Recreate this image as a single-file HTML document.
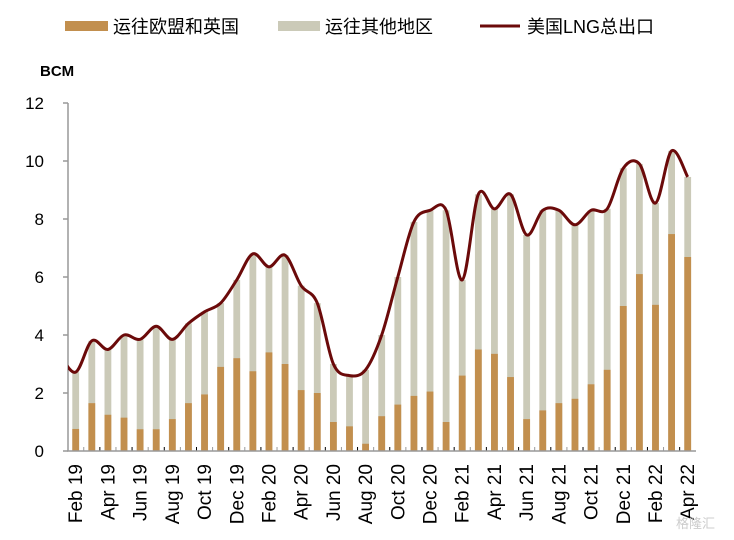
<!DOCTYPE html>
<html><head><meta charset="utf-8">
<style>
body{margin:0;background:#fff;}
svg{display:block;font-family:"Liberation Sans","Noto Sans CJK SC",sans-serif;}
</style></head><body>
<svg id="chart" width="734" height="540" viewBox="0 0 734 540" xmlns="http://www.w3.org/2000/svg">
<g>
  <rect x="65" y="21" width="43" height="10" fill="#c28f4e"/>
  <text x="113" y="33" font-size="18" fill="#000">运往欧盟和英国</text>
  <rect x="278" y="21" width="42" height="10" fill="#cbcab8"/>
  <text x="325" y="33" font-size="18" fill="#000">运往其他地区</text>
  <line x1="480" y1="26" x2="520" y2="26" stroke="#6b0a0a" stroke-width="3"/>
  <text x="527" y="33" font-size="18" fill="#000">美国LNG总出口</text>
</g>
<text x="40" y="76" font-size="15" font-weight="bold" fill="#000">BCM</text>
<g id="plot"></g>
<text x="676" y="528" font-size="13" fill="#ccc">格隆汇</text>
</svg>
<script>
const categories=["Feb 19","Mar 19","Apr 19","May 19","Jun 19","Jul 19","Aug 19","Sep 19","Oct 19","Nov 19","Dec 19","Jan 20","Feb 20","Mar 20","Apr 20","May 20","Jun 20","Jul 20","Aug 20","Sep 20","Oct 20","Nov 20","Dec 20","Jan 21","Feb 21","Mar 21","Apr 21","May 21","Jun 21","Jul 21","Aug 21","Sep 21","Oct 21","Nov 21","Dec 21","Jan 22","Feb 22","Mar 22","Apr 22"];
const euUk=[0.76,1.65,1.25,1.15,0.75,0.75,1.1,1.65,1.95,2.9,3.2,2.75,3.4,3.0,2.1,2.0,1.0,0.85,0.25,1.2,1.6,1.9,2.05,1.0,2.6,3.5,3.35,2.55,1.1,1.4,1.65,1.8,2.3,2.8,5.0,6.1,5.04,7.48,6.69];
const totalExports=[2.72,3.8,3.5,4.0,3.85,4.3,3.85,4.4,4.8,5.1,5.9,6.8,6.35,6.75,5.7,5.1,3.0,2.6,2.8,4.0,6.0,7.9,8.3,8.3,5.9,8.85,8.35,8.85,7.45,8.3,8.3,7.8,8.3,8.35,9.75,9.9,8.55,10.35,9.45];
const yTicks=[0,2,4,6,8,10,12];
const NS="http://www.w3.org/2000/svg";
const plot=document.getElementById('plot');
const x0=75.7, step=(687.7-75.7)/38, yBase=451, pxPer=29;
const xs=i=>x0+i*step;
const ys=v=>yBase-v*pxPer;
function mk(tag,attrs){const e=document.createElementNS(NS,tag);for(const k in attrs)e.setAttribute(k,attrs[k]);plot.appendChild(e);return e;}
let ax=mk('line',{x1:68,y1:ys(12),x2:68,y2:yBase,stroke:'#999','stroke-width':1.5});


yTicks.forEach(t=>{
  const tk=mk('line',{x1:63,y1:ys(t),x2:68,y2:ys(t),stroke:'#999','stroke-width':1.5});
  
  
  const lb=mk('text',{x:44,y:ys(t)+6,'font-size':17,'text-anchor':'end',fill:'#000'});
  lb.textContent=t;
  
  
});
categories.forEach((c,i)=>{
  const x=xs(i)-3.4;
  const g=mk('rect',{x:x,y:ys(totalExports[i]),width:6.8,height:totalExports[i]*pxPer,fill:'#cbcab8'});
  
  
  const b=mk('rect',{x:x,y:ys(euUk[i]),width:6.8,height:euUk[i]*pxPer,fill:'#c28f4e'});
  
  
  if(i<categories.length-1){
    const tk=mk('line',{x1:xs(i)+step/2,y1:yBase-4,x2:xs(i)+step/2,y2:yBase,stroke:(i%2==1?'#000':'#999'),'stroke-width':1});
    
    
  }
  if(i%2==0){
    const lb=mk('text',{x:0,y:0,'font-size':19,'text-anchor':'end',fill:'#000',transform:`translate(${xs(i)+6.5},464) rotate(-90)`});
    lb.textContent=c;
    
    
  }
});
let xa=mk('line',{x1:67,y1:yBase,x2:696,y2:yBase,stroke:'#999','stroke-width':1.5});


const pts=totalExports.map((v,i)=>[xs(i),ys(v)]);
const first=[xs(-1),ys(totalExports[0]+0.6)];
const all=[first,...pts];
let d=`M${all[0][0]},${all[0][1]}`;
for(let i=0;i<all.length-1;i++){
  const p0=all[i-1]||all[i],p1=all[i],p2=all[i+1],p3=all[i+2]||p2;
  const c1=[p1[0]+(p2[0]-p0[0])/6,p1[1]+(p2[1]-p0[1])/6];
  const c2=[p2[0]-(p3[0]-p1[0])/6,p2[1]-(p3[1]-p1[1])/6];
  d+=` C${c1[0]},${c1[1]} ${c2[0]},${c2[1]} ${p2[0]},${p2[1]}`;
}
const cp=document.createElementNS(NS,'clipPath');cp.setAttribute('id','clipL');
const cr=document.createElementNS(NS,'rect');cr.setAttribute('x',68);cr.setAttribute('y',0);cr.setAttribute('width',700);cr.setAttribute('height',540);
cp.appendChild(cr);plot.appendChild(cp);
const ln=mk('path',{d:d,fill:'none',stroke:'#6b0a0a','stroke-width':3,'clip-path':'url(#clipL)'});


</script>
</body></html>
